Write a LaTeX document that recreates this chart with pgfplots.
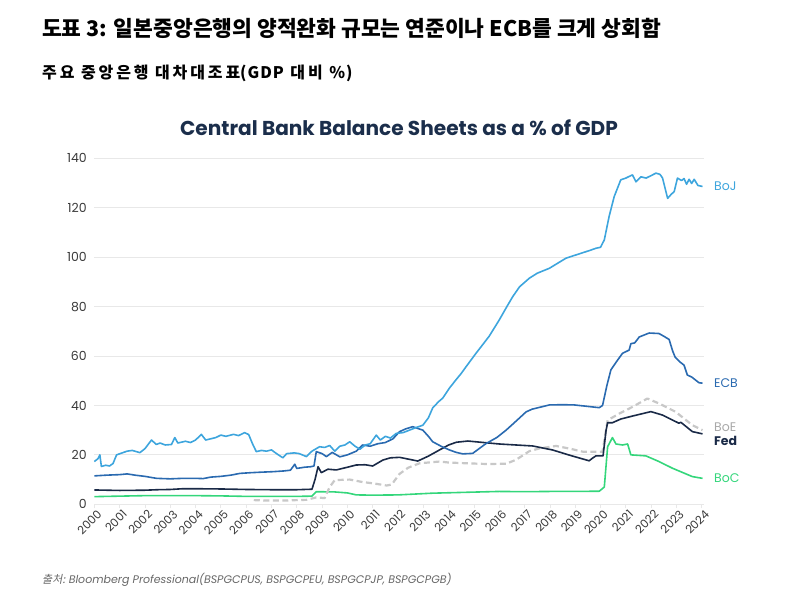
\documentclass[border=0pt]{standalone}
\usepackage{fontspec}
\usepackage{pgfplots}
\pgfplotsset{compat=1.18}
\setmainfont{Poppins}
\newfontfamily\kr{Noto Sans CJK KR}
\newfontfamily\krsp[LetterSpace=18]{Noto Sans CJK KR}
\newfontfamily\krlat[LetterSpace=6]{Noto Sans CJK KR}
\newfontfamily\krit[FakeSlant=0.2]{Noto Sans CJK KR}
\definecolor{cBoJ}{HTML}{3DA5DD}
\definecolor{cECB}{HTML}{2A6AB0}
\definecolor{cFed}{HTML}{1A2A47}
\definecolor{cBoE}{HTML}{C8C8C8}
\definecolor{cBoEl}{HTML}{A8A8A8}
\definecolor{cBoC}{HTML}{34D67B}
\definecolor{cTitle}{HTML}{1B2E4B}
\definecolor{cTick}{HTML}{3A3A3A}
\definecolor{cGrid}{HTML}{E8E8E8}
\begin{document}
\begin{tikzpicture}
\path[use as bounding box] (0pt,0pt) rectangle (788pt,613pt);
\node[anchor=west,inner sep=0] at (42pt,585pt) {\kr\bfseries\fontsize{21.5}{24}\selectfont 도표 3: 일본중앙은행의 양적완화 규모는 연준이나 ECB를 크게 상회함};
\node[anchor=west,inner sep=0] at (42pt,540pt) {\bfseries\fontsize{16}{19}\selectfont{\krsp 주요 중앙은행 대차대조표}{\krlat (GDP}{\krsp\ 대비 }{\krlat\%)}};
\node[anchor=center,inner sep=0,text=cTitle] at (399pt,485pt) {\bfseries\fontsize{20.1}{23}\selectfont Central Bank Balance Sheets as a \% of GDP};
\node[anchor=west,inner sep=0,text=gray!80!black] at (42pt,33pt) {\krit\fontsize{11}{13}\selectfont 출처: \fontspec{Poppins}\itshape\fontsize{11}{13}\selectfont Bloomberg Professional(BSPGCPUS, BSPGCPEU, BSPGCPJP, BSPGCPGB)};
\begin{axis}[
  at={(94.3pt,108.7pt)}, anchor=south west,
  scale only axis, width=610pt, height=346pt,
  xmin=2000, xmax=2024.1, ymin=0, ymax=140,
  clip=false,
  axis line style={draw=none},
  ymajorgrids, grid style={draw=cGrid, line width=0.8pt},
  ytick={0,20,...,140}, xtick={2000,2001,...,2024},
  ytick style={draw=none},
  xtick style={draw=cGrid, line width=0.8pt},
  tick align=outside, major tick length=4pt,
  xtick pos=bottom, ytick pos=left,
  /pgf/number format/assume math mode=true,
  /pgf/number format/set thousands separator={},
  yticklabel style={font=\fontsize{12.5}{14}\selectfont, text=cTick},
  xticklabel style={font=\fontsize{11.5}{13}\selectfont, text=cTick, rotate=45, anchor=north east, xshift=3pt, inner sep=2pt},
  every axis plot/.append style={line width=1.6pt, line join=round},
]
% BoC
\addplot[cBoC] coordinates {(2000.0,3.1)(2001.0,3.3)(2002.0,3.5)(2003.0,3.5)(2004.0,3.5)(2005.0,3.4)(2006.0,3.2)(2007.0,3.2)(2008.0,3.2)(2008.6,3.3)(2008.77,5.1)(2009.5,5.0)(2010.0,4.6)(2010.35,3.8)(2011.0,3.7)(2012.0,3.8)(2013.37,4.5)(2016.0,5.2)(2017.0,5.1)(2018.0,5.2)(2019.0,5.2)(2019.95,5.3)(2020.15,7.0)(2020.28,23.3)(2020.47,27.0)(2020.61,24.4)(2020.87,24.0)(2021.07,24.4)(2021.2,20.0)(2021.79,19.6)(2022.31,17.3)(2022.84,14.6)(2023.63,11.2)(2024.03,10.5)};
% BoE
\addplot[cBoE, line width=2.2pt, dash pattern=on 6pt off 3.5pt] coordinates {(2006.3,1.7)(2006.8,1.5)(2007.5,1.5)(2008.0,1.7)(2008.38,1.8)(2008.77,2.8)(2009.1,2.5)(2009.3,7.0)(2009.5,9.8)(2010.1,10.0)(2010.6,9.0)(2011.0,8.5)(2011.55,7.6)(2011.75,8.0)(2012.06,12.3)(2012.4,14.8)(2012.85,16.6)(2013.64,17.3)(2014.0,16.9)(2014.69,16.6)(2015.5,16.3)(2016.27,16.4)(2016.66,18.0)(2017.19,21.5)(2017.58,22.6)(2018.24,23.6)(2018.8,22.5)(2019.29,21.3)(2020.08,21.3)(2020.28,34.0)(2020.74,36.7)(2021.26,39.4)(2021.85,42.8)(2022.31,40.8)(2022.97,37.4)(2023.63,32.0)(2024.03,30.0)};
% Fed
\addplot[cFed] coordinates {(2000.0,5.8)(2001.0,5.6)(2002.0,5.7)(2002.5,5.9)(2003.0,6.0)(2003.5,6.3)(2004.0,6.3)(2005.0,6.2)(2006.0,6.0)(2007.0,5.9)(2008.0,5.9)(2008.6,6.1)(2008.72,10.0)(2008.84,15.2)(2008.97,12.8)(2009.23,14.2)(2009.56,13.9)(2010.0,15.0)(2010.35,15.9)(2010.7,16.0)(2011.0,15.5)(2011.4,17.9)(2011.7,18.8)(2012.06,19.0)(2012.4,18.3)(2012.78,17.5)(2013.2,19.5)(2013.64,22.0)(2014.0,24.0)(2014.3,25.1)(2014.76,25.6)(2015.48,24.9)(2016.0,24.4)(2017.32,23.6)(2018.1,22.0)(2018.8,19.8)(2019.55,17.6)(2019.7,18.8)(2019.82,19.6)(2020.1,19.6)(2020.22,30.0)(2020.28,33.0)(2020.47,33.0)(2020.8,34.5)(2021.26,35.7)(2021.99,37.5)(2022.45,36.1)(2022.8,34.3)(2023.1,32.8)(2023.17,33.2)(2023.63,29.4)(2024.03,28.5)};
% ECB
\addplot[cECB] coordinates {(2000.0,11.5)(2000.5,11.8)(2001.0,12.0)(2001.3,12.3)(2001.6,11.8)(2002.0,11.3)(2002.46,10.5)(2003.0,10.3)(2003.5,10.5)(2004.0,10.5)(2004.3,10.4)(2004.6,11.0)(2005.0,11.3)(2005.4,11.8)(2005.75,12.5)(2006.2,12.8)(2006.6,13.0)(2007.06,13.2)(2007.5,13.5)(2007.75,13.8)(2007.92,16.2)(2008.0,14.5)(2008.3,15.0)(2008.55,15.2)(2008.68,15.5)(2008.77,21.3)(2009.0,20.5)(2009.17,19.3)(2009.4,21.0)(2009.7,19.2)(2010.0,20.0)(2010.35,21.5)(2010.6,24.0)(2010.9,23.5)(2011.2,24.5)(2011.5,25.0)(2011.8,26.5)(2012.06,29.4)(2012.3,30.5)(2012.58,31.4)(2012.98,30.0)(2013.2,27.5)(2013.37,25.3)(2013.7,23.5)(2014.03,22.0)(2014.3,21.0)(2014.56,20.4)(2014.95,20.6)(2015.2,22.5)(2015.48,24.6)(2015.9,27.0)(2016.27,30.0)(2016.7,34.0)(2017.06,37.4)(2017.3,38.5)(2017.58,39.2)(2017.98,40.2)(2018.5,40.3)(2018.97,40.2)(2019.5,39.6)(2019.95,39.1)(2020.08,40.0)(2020.25,48.0)(2020.41,54.4)(2020.65,58.0)(2020.87,61.1)(2021.13,62.4)(2021.2,65.0)(2021.35,65.3)(2021.53,67.7)(2021.92,69.3)(2022.31,69.1)(2022.5,68.0)(2022.71,66.7)(2022.85,62.0)(2022.95,59.5)(2023.15,57.5)(2023.3,56.3)(2023.43,52.3)(2023.6,51.5)(2023.89,49.2)(2024.03,49.0)};
% BoJ
\addplot[cBoJ] coordinates {(2000.0,17.3)(2000.15,18.5)(2000.22,20.0)(2000.28,15.3)(2000.45,15.8)(2000.6,15.5)(2000.74,16.5)(2000.88,20.0)(2001.1,20.8)(2001.3,21.5)(2001.5,21.8)(2001.8,20.9)(2002.0,22.5)(2002.26,26.0)(2002.45,24.2)(2002.6,24.8)(2002.8,24.0)(2003.05,24.2)(2003.18,27.0)(2003.3,24.8)(2003.6,25.5)(2003.8,25.0)(2004.0,26.0)(2004.23,28.3)(2004.4,26.0)(2004.6,26.5)(2004.8,27.0)(2005.0,28.0)(2005.2,27.5)(2005.5,28.3)(2005.7,27.8)(2005.94,29.0)(2006.1,28.2)(2006.25,24.5)(2006.4,21.3)(2006.6,21.8)(2006.8,21.5)(2007.0,22.0)(2007.2,20.5)(2007.45,18.8)(2007.6,20.5)(2007.9,20.8)(2008.1,20.5)(2008.38,19.3)(2008.6,21.5)(2008.9,23.3)(2009.1,23.0)(2009.3,23.8)(2009.5,21.5)(2009.7,23.5)(2009.9,24.0)(2010.09,25.3)(2010.3,23.5)(2010.5,22.3)(2010.7,24.0)(2010.9,24.5)(2011.14,28.0)(2011.3,26.0)(2011.5,27.5)(2011.7,26.8)(2011.93,28.7)(2012.2,29.0)(2012.45,30.0)(2012.7,31.0)(2012.98,32.0)(2013.2,35.0)(2013.37,39.0)(2013.6,41.5)(2013.77,43.0)(2014.03,47.0)(2014.3,50.5)(2014.5,53.0)(2014.69,55.7)(2015.08,61.1)(2015.3,64.0)(2015.6,68.0)(2016.0,74.6)(2016.3,80.0)(2016.53,84.0)(2016.8,88.0)(2017.19,91.5)(2017.5,93.5)(2017.98,95.5)(2018.3,97.5)(2018.64,99.6)(2019.0,100.8)(2019.3,101.8)(2019.6,102.8)(2019.82,103.6)(2020.0,104.0)(2020.15,107.0)(2020.34,116.5)(2020.54,124.5)(2020.8,131.3)(2021.0,132.0)(2021.26,133.3)(2021.4,130.5)(2021.6,132.5)(2021.8,132.0)(2022.0,133.0)(2022.19,134.0)(2022.35,133.5)(2022.45,132.0)(2022.65,123.8)(2022.8,125.5)(2022.91,126.5)(2023.04,132.0)(2023.2,131.0)(2023.3,131.8)(2023.4,129.5)(2023.5,131.5)(2023.6,129.8)(2023.7,131.5)(2023.85,129.0)(2024.03,128.6)};
\node[anchor=west,inner sep=0,text=cBoJ,font=\fontsize{12.5}{14}\selectfont] at (axis cs:2024.48,128.8) {BoJ};
\node[anchor=west,inner sep=0,text=cECB,font=\fontsize{12.5}{14}\selectfont] at (axis cs:2024.48,49.1) {ECB};
\node[anchor=west,inner sep=0,text=cBoEl,font=\fontsize{12.5}{14}\selectfont] at (axis cs:2024.48,31.3) {BoE};
\node[anchor=west,inner sep=0,text=cFed,font=\fontsize{12.5}{14}\selectfont\bfseries] at (axis cs:2024.48,25.6) {Fed};
\node[anchor=west,inner sep=0,text=cBoC,font=\fontsize{12.5}{14}\selectfont] at (axis cs:2024.48,10.6) {BoC};
\end{axis}
\end{tikzpicture}
\end{document}
